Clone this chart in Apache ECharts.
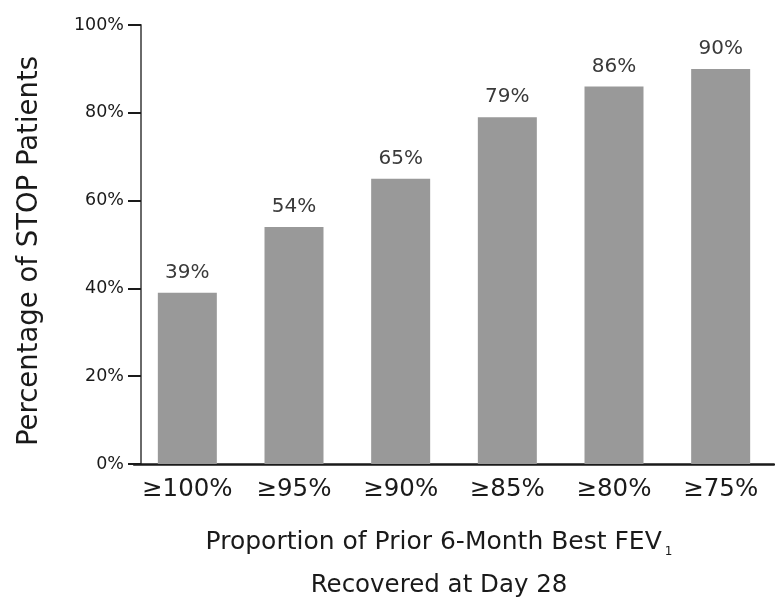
<!DOCTYPE html>
<html>
<head>
<meta charset="utf-8">
<script src="https://cdn.jsdelivr.net/npm/echarts@6/dist/echarts.min.js"></script>
<style>
  html, body { margin: 0; padding: 0; background: #fff; }
  #chart { width: 775px; height: 603px; }
</style>
</head>
<body>
<div id="chart"></div>
<script>
// FEV1 recovery thresholds and share of STOP patients reaching each
const categories = ['≥100%', '≥95%', '≥90%', '≥85%', '≥80%', '≥75%'];
const percentValues = [39, 54, 65, 79, 86, 90];
const yTicks = [0, 20, 40, 60, 80, 100];

const FONT = '"DejaVu Sans", "Open Sans", sans-serif';
const INK = '#1a1a1a';
const chart = echarts.init(document.getElementById('chart'), null, { renderer: 'canvas' });

chart.setOption({
  animation: false,
  backgroundColor: '#ffffff',
  grid: { left: 134, right: 1, top: 25, bottom: 139, containLabel: false },
  xAxis: {
    type: 'category',
    data: categories,
    axisLine: { show: true, lineStyle: { color: INK, width: 2.5 } },
    axisTick: { show: false },
    axisLabel: { color: INK, fontFamily: FONT, fontSize: 24.5, margin: 13, interval: 0 },
    name: '{a|Proportion of Prior 6-Month Best FEV}{sub|1}\n{b|Recovered at Day 28}',
    nameLocation: 'middle',
    nameGap: 57,
    nameTextStyle: {
      fontFamily: FONT,
      color: INK,
      padding: [0, 30, 0, 0],
      rich: {
        a: { fontFamily: FONT, fontSize: 25, color: INK, lineHeight: 43 },
        b: { fontFamily: FONT, fontSize: 24.5, color: INK, lineHeight: 43 },
        sub: { fontFamily: FONT, fontSize: 12, color: INK, lineHeight: 43, padding: [18, 0, 0, 3] }
      }
    }
  },
  yAxis: {
    type: 'value',
    min: yTicks[0],
    max: yTicks[yTicks.length - 1],
    interval: yTicks[1] - yTicks[0],
    offset: -7,
    splitLine: { show: false },
    axisLine: { show: true, lineStyle: { color: '#6a6a6a', width: 2 } },
    axisTick: { show: true, inside: false, length: 13, lineStyle: { color: INK, width: 2 } },
    axisLabel: { color: INK, fontFamily: FONT, fontSize: 17.5, margin: 17, formatter: '{value}%' },
    name: 'Percentage of STOP Patients',
    nameLocation: 'middle',
    nameGap: 97,
    nameRotate: 90,
    nameTextStyle: { fontFamily: FONT, fontSize: 27.5, color: INK, padding: [0, 13, 0, 0] }
  },
  series: [{
    type: 'bar',
    data: percentValues,
    barWidth: 59,
    itemStyle: { color: '#999999' },
    label: {
      show: true,
      position: 'top',
      distance: 10,
      formatter: '{c}%',
      fontFamily: FONT,
      fontSize: 20,
      color: '#3a3a3a'
    }
  }]
});
</script>
</body>
</html>
